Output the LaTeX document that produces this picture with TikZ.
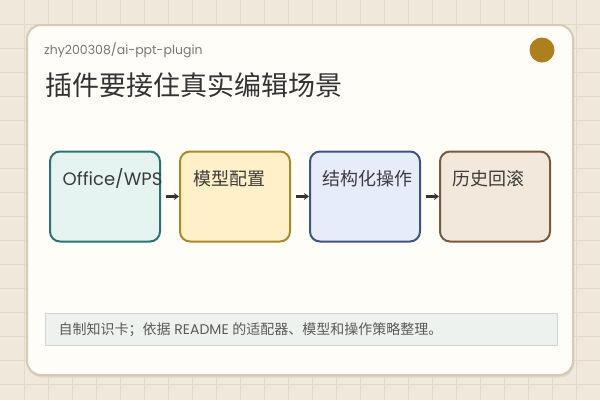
\documentclass[tikz,border=0pt]{standalone}
\usepackage{fontspec}
\setmainfont{Poppins}
\newfontfamily\cjk{Noto Sans CJK SC}
\usetikzlibrary{arrows.meta}
\definecolor{bgc}{HTML}{EFE8DB}
\definecolor{gridc}{HTML}{E2D9C8}
\definecolor{cardc}{HTML}{FFFDF8}
\definecolor{cardline}{HTML}{D6C9B5}
\definecolor{shadowc}{HTML}{E0D6C5}
\definecolor{dotc}{HTML}{AD7F1E}
\definecolor{titlec}{HTML}{333333}
\definecolor{boxtext}{HTML}{3C3C3C}
\definecolor{subc}{HTML}{777777}
\definecolor{lineA}{HTML}{2A7470}\definecolor{fillA}{HTML}{E5F4F1}
\definecolor{lineB}{HTML}{A88A2A}\definecolor{fillB}{HTML}{FFF0C8}
\definecolor{lineC}{HTML}{3F5387}\definecolor{fillC}{HTML}{E6ECFA}
\definecolor{lineD}{HTML}{7A5A3E}\definecolor{fillD}{HTML}{F2E8DC}
\definecolor{footfill}{HTML}{EEF2EE}
\definecolor{footline}{HTML}{D2D6D0}
\definecolor{foottext}{HTML}{5A5A5A}
\definecolor{arrowc}{HTML}{333333}
\tikzset{
  stepbox/.style={draw, line width=2pt, rounded corners=10pt, minimum width=110pt, minimum height=90pt, inner sep=0pt},
  boxlbl/.style={anchor=base west, inner sep=0pt, text=boxtext, font=\fontsize{18}{20}\selectfont},
  flow/.style={draw=arrowc, line width=3pt, shorten <=5pt, -{Stealth[length=5pt,width=7pt]}},
}
\begin{document}
\begin{tikzpicture}[x=1pt,y=-1pt]
\useasboundingbox (0,0) rectangle (600,400);
\fill[bgc] (0,0) rectangle (600,400);
\foreach \i in {24,48,...,576} \draw[gridc, line width=1pt] (\i,0) -- (\i,400);
\foreach \j in {24,48,...,384} \draw[gridc, line width=1pt] (0,\j) -- (600,\j);
% card
\fill[shadowc, rounded corners=14pt] (28,27.5) rectangle (574,377.5);
\draw[cardline, fill=cardc, line width=2pt, rounded corners=14pt] (27,25) rectangle (573,375);
% header
\node[anchor=base west, inner sep=0pt, text=subc, font=\fontsize{12.5}{14}\selectfont] (sub) at (44,54) {zhy200308/ai-ppt-plugin};
\node[anchor=base west, inner sep=0pt, text=titlec, font=\cjk\fontsize{27}{30}\selectfont] (title) at (45,95) {插件要接住真实编辑场景};
\fill[dotc] (542,50) circle (12.5pt);
% boxes
\node[stepbox, draw=lineA, fill=fillA] (b1) at (105,196.5) {};
\node[stepbox, draw=lineB, fill=fillB] (b2) at (235,196.5) {};
\node[stepbox, draw=lineC, fill=fillC] (b3) at (365,196.5) {};
\node[stepbox, draw=lineD, fill=fillD] (b4) at (495,196.5) {};
\node[boxlbl] (t1) at (62.5,185) {Office/WPS};
\node[boxlbl, font=\cjk\fontsize{18}{20}\selectfont] (t2) at (193,185) {模型配置};
\node[boxlbl, font=\cjk\fontsize{18}{20}\selectfont] (t3) at (322.5,185) {结构化操作};
\node[boxlbl, font=\cjk\fontsize{18}{20}\selectfont] (t4) at (452.5,185) {历史回滚};
\draw[flow] (b1.east) -- (b2.west);
\draw[flow] (b2.east) -- (b3.west);
\draw[flow] (b3.east) -- (b4.west);
% footer
\node[draw=footline, fill=footfill, line width=1pt, anchor=north west, minimum width=512pt, minimum height=32pt, inner sep=0pt] (foot) at (44.5,313) {};
\node[anchor=base west, inner sep=0pt, text=foottext, font=\fontsize{14}{16}\selectfont] (foottxt) at (58.5,334) {{\cjk 自制知识卡；依据} README {\cjk 的适配器、模型和操作策略整理。}};
\end{tikzpicture}
\end{document}
